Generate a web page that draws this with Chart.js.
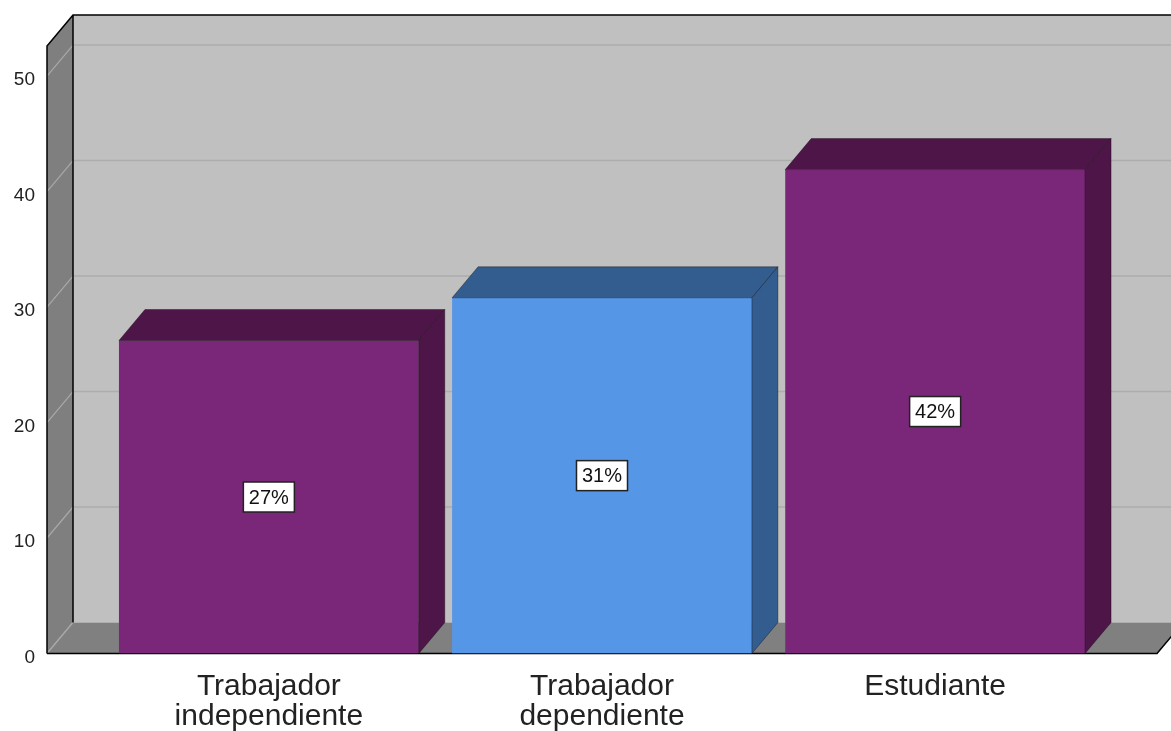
<!DOCTYPE html>
<html>
<head>
    <meta charset="utf-8">
    <title>Ocupación</title>
    <script src="https://cdn.jsdelivr.net/npm/chart.js"></script>
    <style>
        body { margin: 0; background: #fff; }
    </style>
</head>
<body>
    <canvas id="barChart" width="1171" height="731"></canvas>

    <script>
        // datos
        const categorias = [
            ['Trabajador', 'independiente'],
            ['Trabajador', 'dependiente'],
            'Estudiante'
        ];
        const porcentajes = [27.1, 30.8, 41.9];
        const etiquetas = ['27%', '31%', '42%'];
        const yTicks = [0, 10, 20, 30, 40, 50];

        const colores = ['#7b2779', '#5596e6', '#7b2779'];
        const coloresOscuros = ['#4e1648', '#335c8f', '#4e1648'];

        // profundidad del efecto 3D
        const DX = 26, DY = 31;

        const efecto3D = {
            id: 'efecto3D',
            beforeDatasetsDraw(chart) {
                const ctx = chart.ctx;
                const a = chart.chartArea;
                const y = chart.scales.y;
                const W = chart.width + 40;
                const bottom = a.bottom, top = a.top;

                ctx.save();
                // pared del fondo
                ctx.fillStyle = '#c0c0c0';
                ctx.fillRect(a.left + DX, top - DY, W, bottom - top);
                // lineas de cuadricula en el fondo
                ctx.strokeStyle = '#adadad';
                ctx.lineWidth = 1.5;
                yTicks.forEach(v => {
                    if (v === 0) return;
                    const py = y.getPixelForValue(v);
                    ctx.beginPath();
                    ctx.moveTo(a.left + DX, py - DY);
                    ctx.lineTo(W, py - DY);
                    ctx.stroke();
                });

                // pared lateral
                ctx.fillStyle = '#7f7f7f';
                ctx.beginPath();
                ctx.moveTo(a.left, top);
                ctx.lineTo(a.left + DX, top - DY);
                ctx.lineTo(a.left + DX, bottom - DY);
                ctx.lineTo(a.left, bottom);
                ctx.closePath();
                ctx.fill();
                ctx.strokeStyle = '#a9a9a9';
                ctx.lineWidth = 1.2;
                yTicks.forEach(v => {
                    const py = y.getPixelForValue(v);
                    ctx.beginPath();
                    ctx.moveTo(a.left, py);
                    ctx.lineTo(a.left + DX, py - DY);
                    ctx.stroke();
                });

                // piso
                ctx.fillStyle = '#808080';
                ctx.beginPath();
                ctx.moveTo(a.left, bottom);
                ctx.lineTo(a.right, bottom);
                ctx.lineTo(a.right + DX, bottom - DY);
                ctx.lineTo(W, bottom - DY);
                ctx.lineTo(a.left + DX, bottom - DY);
                ctx.closePath();
                ctx.fill();
                ctx.strokeStyle = '#a9a9a9';
                ctx.beginPath();
                ctx.moveTo(a.left, bottom);
                ctx.lineTo(a.left + DX, bottom - DY);
                ctx.stroke();

                // bordes negros
                ctx.strokeStyle = '#000';
                ctx.lineWidth = 1.5;
                ctx.beginPath();
                ctx.moveTo(a.left, bottom);
                ctx.lineTo(a.left, top);
                ctx.lineTo(a.left + DX, top - DY);
                ctx.lineTo(W, top - DY);
                ctx.moveTo(a.left + DX, top - DY);
                ctx.lineTo(a.left + DX, bottom - DY);
                ctx.moveTo(a.left, bottom);
                ctx.lineTo(a.right, bottom);
                ctx.lineTo(a.right + DX, bottom - DY);
                ctx.stroke();
                ctx.restore();
            },
            afterDatasetsDraw(chart) {
                const ctx = chart.ctx;
                const meta = chart.getDatasetMeta(0);
                ctx.save();
                meta.data.forEach((bar, i) => {
                    const p = bar.getProps(['x', 'y', 'base', 'width'], true);
                    const l = p.x - p.width / 2, r = p.x + p.width / 2;
                    ctx.fillStyle = coloresOscuros[i];
                    ctx.strokeStyle = 'rgba(0,0,0,0.35)';
                    ctx.lineWidth = 1;
                    // cara superior
                    ctx.beginPath();
                    ctx.moveTo(l, p.y);
                    ctx.lineTo(l + DX, p.y - DY);
                    ctx.lineTo(r + DX, p.y - DY);
                    ctx.lineTo(r, p.y);
                    ctx.closePath();
                    ctx.fill();
                    ctx.stroke();
                    // cara lateral
                    ctx.beginPath();
                    ctx.moveTo(r, p.y);
                    ctx.lineTo(r + DX, p.y - DY);
                    ctx.lineTo(r + DX, p.base - DY);
                    ctx.lineTo(r, p.base);
                    ctx.closePath();
                    ctx.fill();
                    ctx.stroke();

                    // etiqueta de valor
                    const cy = (p.y + p.base) / 2;
                    const bw = 51, bh = 30;
                    ctx.fillStyle = '#fff';
                    ctx.fillRect(p.x - bw / 2, cy - bh / 2, bw, bh);
                    ctx.strokeStyle = '#222';
                    ctx.lineWidth = 1.5;
                    ctx.strokeRect(p.x - bw / 2, cy - bh / 2, bw, bh);
                    ctx.fillStyle = '#111';
                    ctx.font = '20px "Liberation Sans", Arial, sans-serif';
                    ctx.textAlign = 'center';
                    ctx.textBaseline = 'middle';
                    ctx.fillText(etiquetas[i], p.x, cy + 1);
                });
                ctx.restore();
            }
        };

        const barChart = new Chart(document.getElementById('barChart').getContext('2d'), {
            type: 'bar',
            data: {
                datasets: [{
                    data: porcentajes.map((v, i) => ({ x: i, y: v })),
                    backgroundColor: colores,
                    borderWidth: 0,
                    barPercentage: 0.9,
                    categoryPercentage: 1
                }]
            },
            options: {
                responsive: false,
                animation: false,
                devicePixelRatio: 1,
                layout: { padding: { top: 46, right: 14, left: 0, bottom: 0 } },
                plugins: { legend: { display: false }, tooltip: { enabled: false } },
                scales: {
                    x: {
                        type: 'linear',
                        offset: false,
                        min: -0.666,
                        max: 2.666,
                        grid: { display: false, drawTicks: false },
                        border: { display: false },
                        afterFit: s => { s.height = 77.5; },
                        ticks: {
                            stepSize: 1,
                            includeBounds: false,
                            autoSkip: false,
                            maxRotation: 0,
                            padding: 18,
                            color: '#222',
                            font: { family: '"Liberation Sans", Arial, sans-serif', size: 30, lineHeight: 1 },
                            callback: v => categorias[v]
                        }
                    },
                    y: {
                        min: 0,
                        max: 52.6,
                        grid: { display: false, drawTicks: false },
                        border: { display: false },
                        afterFit: s => { s.width = 47; },
                        afterBuildTicks: s => { s.ticks = yTicks.map(v => ({ value: v })); },
                        ticks: {
                            padding: 12,
                            labelOffset: 4,
                            color: '#222',
                            font: { family: '"Liberation Sans", Arial, sans-serif', size: 19 }
                        }
                    }
                }
            },
            plugins: [efecto3D]
        });
    </script>
</body>
</html>
